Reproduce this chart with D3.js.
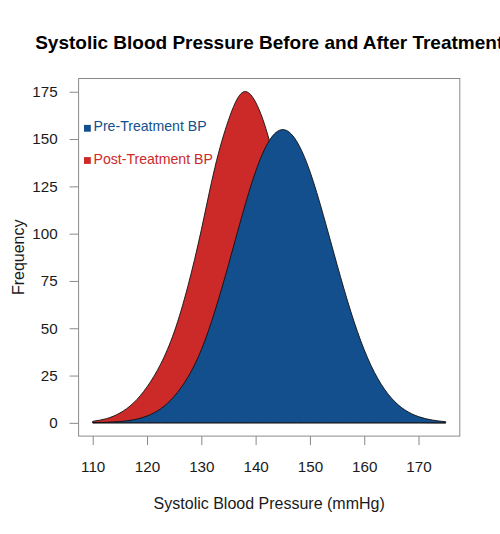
<!DOCTYPE html>
<html>
<head>
<meta charset="utf-8">
<script src="https://cdn.jsdelivr.net/npm/d3@7"></script>
<style>
  body { margin: 0; background: #fff; }
  svg { display: block; font-family: "Liberation Sans", Arial, sans-serif; }
</style>
</head>
<body>
<div id="chart"></div>
<script>
// blood pressure grid (mmHg) and the two frequency curves
const bpValues = [110, 112.5, 115, 117.5, 120, 122.5, 125, 127.5, 130, 132.5, 135, 137.5, 140,
  142.5, 145, 147.5, 150, 152.5, 155, 157.5, 160, 162.5, 165, 167.5, 170, 172.5, 175];
const postFreq = [0.8, 2.2, 5.2, 10.5, 19, 31, 48, 72, 102, 135, 160, 174.5, 169.5,
  149.5, 119, 86, 57, 34, 18.3, 8.9, 4, 1.8, 0.8, 0.4, 0.2, 0.1, 0.05];
const preFreq = [0.1, 0.3, 0.7, 1.6, 3.6, 7.4, 14, 24, 38.6, 59.1, 83.6, 109.5, 132.9,
  149.1, 155, 149.1, 132.9, 109.5, 83.6, 59.1, 38.6, 23.4, 13.1, 6.8, 3.3, 1.5, 0.6];

const xTicks = [110, 120, 130, 140, 150, 160, 170];
const yTicks = [0, 25, 50, 75, 100, 125, 150, 175];

const seriesNames = ["Pre-Treatment BP", "Post-Treatment BP"];
const seriesColors = ["#134f8c", "#cc2929"];

const width = 500, height = 534;
const margin = { top: 78.5, right: 40.2, bottom: 97.9, left: 78.6 };

const svg = d3.select("#chart").append("svg")
  .attr("width", width)
  .attr("height", height)
  .attr("viewBox", [0, 0, width, height]);

// R style 4% padding around the data range
const xScale = d3.scaleLinear()
  .domain([107.4, 177.6])
  .range([margin.left, width - margin.right]);

const yScale = d3.scaleLinear()
  .domain([-7, 182])
  .range([height - margin.bottom, margin.top]);

const area = d3.area()
  .x((d) => xScale(d[0]))
  .y0(yScale(0))
  .y1((d) => yScale(d[1]))
  .curve(d3.curveNatural);

const postData = bpValues.map((v, i) => [v, postFreq[i]]);
const preData = bpValues.map((v, i) => [v, preFreq[i]]);

// post-treatment first, pre-treatment drawn on top
svg.append("path")
  .datum(postData)
  .attr("d", area)
  .attr("fill", seriesColors[1])
  .attr("stroke", "#111")
  .attr("stroke-width", 0.9);

svg.append("path")
  .datum(preData)
  .attr("d", area)
  .attr("fill", seriesColors[0])
  .attr("stroke", "#111")
  .attr("stroke-width", 0.9);

// plot box
svg.append("rect")
  .attr("x", margin.left)
  .attr("y", margin.top)
  .attr("width", width - margin.left - margin.right)
  .attr("height", height - margin.top - margin.bottom)
  .attr("fill", "none")
  .attr("stroke", "#8a8a8a")
  .attr("stroke-width", 1);

// x axis
const xAxis = svg.append("g")
  .attr("transform", `translate(0, ${height - margin.bottom})`)
  .call(d3.axisBottom(xScale).tickValues(xTicks).tickSize(9).tickPadding(16).tickFormat(d3.format("d")));
xAxis.select(".domain").remove();
xAxis.selectAll(".tick line").attr("stroke", "#8a8a8a");
xAxis.selectAll(".tick text")
  .attr("fill", "#1a1a1a")
  .style("font-size", "15.2px")
  .style("font-family", "Liberation Sans, Arial, sans-serif");

// y axis
const yAxis = svg.append("g")
  .attr("transform", `translate(${margin.left}, 0)`)
  .call(d3.axisLeft(yScale).tickValues(yTicks).tickSize(9).tickPadding(12));
yAxis.select(".domain").remove();
yAxis.selectAll(".tick line").attr("stroke", "#8a8a8a");
yAxis.selectAll(".tick text")
  .attr("fill", "#1a1a1a")
  .style("font-size", "15.2px")
  .style("font-family", "Liberation Sans, Arial, sans-serif");

// title (runs past the right edge like the original)
svg.append("text")
  .attr("x", (margin.left + width - margin.right) / 2)
  .attr("y", 48.5)
  .text("Systolic Blood Pressure Before and After Treatment")
  .style("font-weight", "bold")
  .style("font-size", "19px")
  .style("text-anchor", "middle")
  .attr("fill", "#000");

svg.append("text")
  .attr("x", (margin.left + width - margin.right) / 2)
  .attr("y", 509)
  .text("Systolic Blood Pressure (mmHg)")
  .style("font-size", "16px")
  .style("text-anchor", "middle")
  .attr("fill", "#1a1a1a");

svg.append("text")
  .attr("transform", `translate(24, ${(margin.top + height - margin.bottom) / 2}) rotate(-90)`)
  .text("Frequency")
  .style("font-size", "16px")
  .style("text-anchor", "middle")
  .attr("fill", "#1a1a1a");

// legend, no frame
const legend = svg.append("g");
const legendY = [128.3, 160.5];

legend.selectAll("rect")
  .data(seriesNames)
  .enter()
  .append("rect")
  .attr("x", 84)
  .attr("y", (d, i) => legendY[i] - 3.4)
  .attr("width", 6.8)
  .attr("height", 6.8)
  .attr("fill", (d, i) => seriesColors[i]);

legend.selectAll("text")
  .data(seriesNames)
  .enter()
  .append("text")
  .attr("x", 93.5)
  .attr("y", (d, i) => legendY[i] - 1.8)
  .attr("dy", "0.35em")
  .style("font-size", "14.1px")
  .attr("fill", (d, i) => seriesColors[i])
  .text((d) => d);
</script>
</body>
</html>
